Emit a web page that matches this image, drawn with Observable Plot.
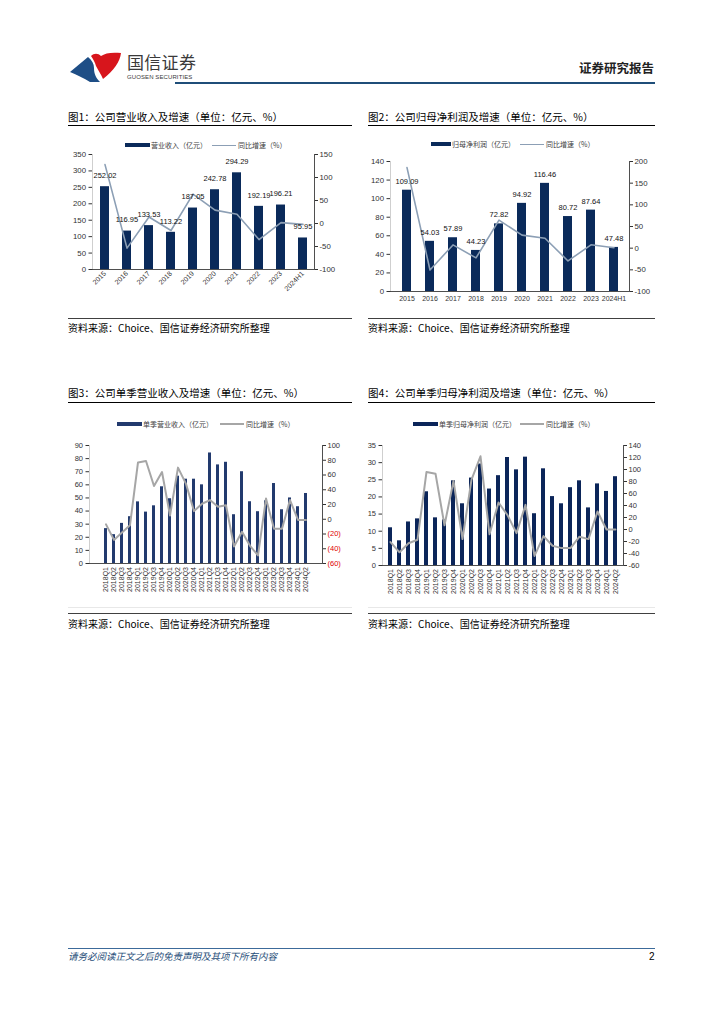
<!DOCTYPE html>
<html><head><meta charset="utf-8">
<script src="https://cdn.jsdelivr.net/npm/d3@7"></script>
<script src="https://cdn.jsdelivr.net/npm/@observablehq/plot@0.6"></script>
<style>
body{margin:0;background:#fff;}
#page{position:relative;width:724px;height:1024px;overflow:hidden;background:#fff;font-family:"Noto Sans CJK SC","Noto Sans",sans-serif;}
.abs{position:absolute;white-space:nowrap;line-height:1;}
.title{font-size:10.5px;color:#000;}
.src{font-size:10px;color:#000;}
.hr{position:absolute;height:0;}
.legt{position:absolute;white-space:nowrap;line-height:1;font-size:7px;color:#404040;}
.chart{position:absolute;}
.chart svg{overflow:visible;}
</style></head><body><div id="page">
<!-- header -->
<svg class="abs" style="left:68px;top:50px" width="56" height="34" viewBox="0 0 56 34">
  <path d="M2,22 L20,7 C24,10 26,14 26,18 C26,24 28,28 32,32 L22,32 C16,28 9,25 2,22 Z" fill="#1e4e86"/>
  <path d="M23,6 C26,3 30,3 33,6 C37,3 44,2 53,3 C52,12 46,20 35,29 C33,24 30,20 28,16 C27,12 25,9 23,6 Z" fill="#d7151c"/>
</svg>
<div class="abs" style="left:127px;top:53px;font-size:17px;color:#3a3a3a;letter-spacing:0.3px">国信证券</div>
<div class="abs" style="left:127px;top:74px;font-size:6px;color:#3a3a3a;font-family:'Liberation Sans',Arial,sans-serif;letter-spacing:0.1px">GUOSEN SECURITIES</div>
<div class="abs" style="left:579px;top:62px;font-size:12.5px;font-weight:bold;color:#222">证券研究报告</div>
<div class="hr" style="left:175px;top:82px;width:480px;border-top:2px solid #1f4e79"></div>

<!-- titles -->
<div class="abs title" style="left:68px;top:112px">图1：公司营业收入及增速（单位：亿元、%）</div>
<div class="hr" style="left:68px;top:124.5px;width:284px;border-top:1px solid #000"></div>
<div class="abs title" style="left:368px;top:112px">图2：公司归母净利润及增速（单位：亿元、%）</div>
<div class="hr" style="left:368px;top:124.5px;width:287px;border-top:1px solid #000"></div>
<div class="abs title" style="left:68px;top:388px">图3：公司单季营业收入及增速（单位：亿元、%）</div>
<div class="hr" style="left:68px;top:401.5px;width:284px;border-top:1px solid #000"></div>
<div class="abs title" style="left:368px;top:388px">图4：公司单季归母净利润及增速（单位：亿元、%）</div>
<div class="hr" style="left:368px;top:401.5px;width:287px;border-top:1px solid #000"></div>

<!-- legends -->
<div class="abs" style="left:125px;top:143.3px;width:25px;height:4px;background:#0a2a5a"></div>
<div class="legt" style="left:151px;top:141.8px">营业收入（亿元）</div>
<div class="abs" style="left:212px;top:144.6px;width:24px;height:1.5px;background:#8c9fb5"></div>
<div class="legt" style="left:238px;top:141.8px">同比增速（%）</div>

<div class="abs" style="left:431px;top:142.3px;width:20px;height:4px;background:#0a2a5a"></div>
<div class="legt" style="left:452px;top:140.8px">归母净利润（亿元）</div>
<div class="abs" style="left:520px;top:143.6px;width:24px;height:1.5px;background:#8c9fb5"></div>
<div class="legt" style="left:546px;top:140.8px">同比增速（%）</div>

<div class="abs" style="left:117px;top:422px;width:25px;height:4px;background:#223a6e"></div>
<div class="legt" style="left:143px;top:420.5px">单季营业收入（亿元）</div>
<div class="abs" style="left:220px;top:423.3px;width:24px;height:1.5px;background:#a6a6a6"></div>
<div class="legt" style="left:246px;top:420.5px">同比增速（%）</div>

<div class="abs" style="left:413px;top:422px;width:25px;height:4px;background:#0b2559"></div>
<div class="legt" style="left:439px;top:420.5px">单季归母净利润（亿元）</div>
<div class="abs" style="left:520px;top:423.3px;width:24px;height:1.5px;background:#a6a6a6"></div>
<div class="legt" style="left:546px;top:420.5px">同比增速（%）</div>

<!-- charts -->
<div id="c1" class="chart" style="left:60px;top:148px"></div>
<div id="c2" class="chart" style="left:360px;top:152px"></div>
<div id="c3" class="chart" style="left:60px;top:438px"></div>
<div id="c4" class="chart" style="left:360px;top:438px"></div>

<!-- sources -->
<div class="hr" style="left:68px;top:317.5px;width:284px;border-top:1px solid #404040"></div>
<div class="abs src" style="left:68px;top:323px">资料来源：Choice、国信证券经济研究所整理</div>
<div class="hr" style="left:368px;top:317.5px;width:287px;border-top:1px solid #404040"></div>
<div class="abs src" style="left:368px;top:323px">资料来源：Choice、国信证券经济研究所整理</div>
<div class="hr" style="left:68px;top:607px;width:284px;border-top:1px solid #e8e8e8"></div>
<div class="hr" style="left:68px;top:613px;width:284px;border-top:1px solid #404040"></div>
<div class="abs src" style="left:68px;top:619px">资料来源：Choice、国信证券经济研究所整理</div>
<div class="hr" style="left:368px;top:607px;width:287px;border-top:1px solid #e8e8e8"></div>
<div class="hr" style="left:368px;top:613px;width:287px;border-top:1px solid #404040"></div>
<div class="abs src" style="left:368px;top:619px">资料来源：Choice、国信证券经济研究所整理</div>

<!-- footer -->
<div class="hr" style="left:68px;top:948px;width:587px;border-top:1px solid #3c6a9a"></div>
<div class="abs" style="left:68px;top:951.5px;font-size:9.5px;font-style:italic;color:#1f4e79">请务必阅读正文之后的免责声明及其项下所有内容</div>
<div class="abs" style="left:649px;top:951.5px;font-size:10px;color:#000;font-family:'Liberation Sans',Arial,sans-serif">2</div>
</div>
<script>
// ---------- data ----------
const years = ["2015","2016","2017","2018","2019","2020","2021","2022","2023","2024H1"];
const revenue = [252.02,116.95,133.53,113.22,187.05,242.78,294.29,192.19,196.21,95.95];
const revenueGrowth = [128,-53.6,14.2,-15.2,64,29,20,-35,2,-2];
const profit = [109.09,54.03,57.89,44.23,72.82,94.92,116.46,80.72,87.64,47.48];
const profitGrowth = [186,-50.5,7.5,-22.5,64.6,30,23,-29.5,7.7,1];
const quarters = ["2018Q1","2018Q2","2018Q3","2018Q4","2019Q1","2019Q2","2019Q3","2019Q4",
  "2020Q1","2020Q2","2020Q3","2020Q4","2021Q1","2021Q2","2021Q3","2021Q4",
  "2022Q1","2022Q2","2022Q3","2022Q4","2023Q1","2023Q2","2023Q3","2023Q4","2024Q1","2024Q2"];
const qRevenue = [26.6,22.0,30.6,35.7,47.0,39.2,44.0,58.5,49.4,66.6,64.3,64.3,60.0,84.3,75.2,77.2,
  37.2,70.0,47.1,39.5,47.8,61.0,41.0,50.0,43.3,53.4];
const qRevenueGrowth = [-7,-28,-18,-8,77,79,45,64,5,70,48,11,21,26,17,19,-37,-17,-36,-49,28,-13,-13,26,-1,-1];
const qProfit = [11.0,7.2,12.7,13.6,21.5,13.9,13.3,24.7,18.0,25.5,29.6,22.3,26.2,31.5,27.9,31.6,
  15.1,28.2,20.1,18.0,22.7,24.7,16.8,23.8,21.6,25.9];
const qProfitGrowth = [-21,-38,-23,-17,96,93,7,81,-16,83,122,-8,45,24,-6,41,-44,-11,-27,-31,-31,-12,-16,30,0,0];

const FONT = "'Liberation Sans', Arial, sans-serif";

function dual(o) {
  const toL = g => (g - o.rmin) / (o.rmax - o.rmin) * o.lmax;
  const fromL = v => Math.round(v / o.lmax * (o.rmax - o.rmin) + o.rmin);
  const data = o.cats.map((c, i) => ({c, v: o.bars[i], gl: toL(o.growth[i])}));
  const lticks = d3.range(0, o.lmax + 1e-9, o.lstep);
  const rticks = d3.range(o.rmin, o.rmax + 1e-9, o.rstep);
  const axisCommon = {anchor: "right", tickSize: 3, tickPadding: 2, fontSize: o.fs, label: null};
  const rightAxes = o.negRed ? [
    Plot.axisY(rticks.filter(t => t >= 0).map(toL), {...axisCommon, tickFormat: d => String(fromL(d)), fill: "#333"}),
    Plot.axisY(rticks.filter(t => t < 0).map(toL), {...axisCommon, tickFormat: d => `(${Math.abs(fromL(d))})`, fill: "#e00000"})
  ] : [
    Plot.axisY(rticks.map(toL), {...axisCommon, tickFormat: d => String(fromL(d)), fill: "#333"})
  ];
  const marks = [
    Plot.frame({anchor: "left", stroke: "#cfcfcf"}),
    Plot.barY(data, {x: "c", y: "v", fill: o.barColor}),
    Plot.ruleY([0], {stroke: "#222", strokeWidth: 0.8}),
    Plot.frame({anchor: "right", stroke: "#222", strokeWidth: 0.8}),
    Plot.axisY(lticks, {anchor: "left", tickSize: 3.5, tickPadding: 3, fontSize: o.fs, fill: "#333", label: null, tickFormat: d => String(d)}),
    ...rightAxes,
    Plot.axisX({tickRotate: o.rotate, tickSize: 0, tickPadding: o.xpad, fontSize: o.xfs, fill: "#333", label: null}),
    Plot.line(data, {x: "c", y: "gl", stroke: o.lineColor, strokeWidth: o.lineWidth}),
  ];
  if (o.labels) marks.push(Plot.text(data, {x: "c", y: "v", text: d => d.v.toFixed(2), dy: o.labelDy, fontSize: 7.5, fill: "#111"}));
  const svg = Plot.plot({
    width: o.width, height: o.height,
    marginLeft: o.ml, marginRight: o.mr, marginTop: o.mt, marginBottom: o.mb,
    x: {type: "band", domain: o.cats, paddingInner: o.pi, paddingOuter: o.po},
    y: {domain: [0, o.lmax]},
    style: {background: "transparent", fontFamily: FONT, fontSize: "8px", color: "#333", overflow: "visible"},
    marks
  });
  document.getElementById(o.el).appendChild(svg);
}

dual({el: "c1", cats: years, bars: revenue, growth: revenueGrowth,
  lmax: 350, lstep: 50, rmin: -100, rmax: 150, rstep: 50,
  width: 290, height: 159, ml: 32, mr: 36, mt: 6, mb: 38, pi: 0.6, po: 0.33,
  barColor: "#0a2a5a", lineColor: "#8c9fb5", lineWidth: 1.6, labels: true, labelDy: -11,
  rotate: -45, xpad: 3, fs: 7.8, xfs: 7});
dual({el: "c2", cats: years, bars: profit, growth: profitGrowth,
  lmax: 140, lstep: 20, rmin: -100, rmax: 200, rstep: 50,
  width: 295, height: 159, ml: 30, mr: 26, mt: 9, mb: 20, pi: 0.62, po: 0.31,
  barColor: "#0a2a5a", lineColor: "#8c9fb5", lineWidth: 1.6, labels: true, labelDy: -9,
  rotate: 0, xpad: 5, fs: 7.8, xfs: 7});
dual({el: "c3", cats: quarters, bars: qRevenue, growth: qRevenueGrowth,
  lmax: 90, lstep: 10, rmin: -60, rmax: 100, rstep: 20, negRed: true,
  width: 295, height: 163, ml: 29, mr: 33, mt: 7, mb: 38, pi: 0.58, po: 0.32,
  barColor: "#223a6e", lineColor: "#a6a6a6", lineWidth: 2, labels: false,
  rotate: -90, xpad: 3.5, fs: 7.5, xfs: 7});
dual({el: "c4", cats: quarters, bars: qProfit, growth: qProfitGrowth,
  lmax: 35, lstep: 5, rmin: -60, rmax: 140, rstep: 20,
  width: 295, height: 165, ml: 22, mr: 32, mt: 7, mb: 38, pi: 0.6, po: 0.4,
  barColor: "#0b2559", lineColor: "#a6a6a6", lineWidth: 2, labels: false,
  rotate: -90, xpad: 3.5, fs: 7.5, xfs: 7});
</script>
</body></html>
